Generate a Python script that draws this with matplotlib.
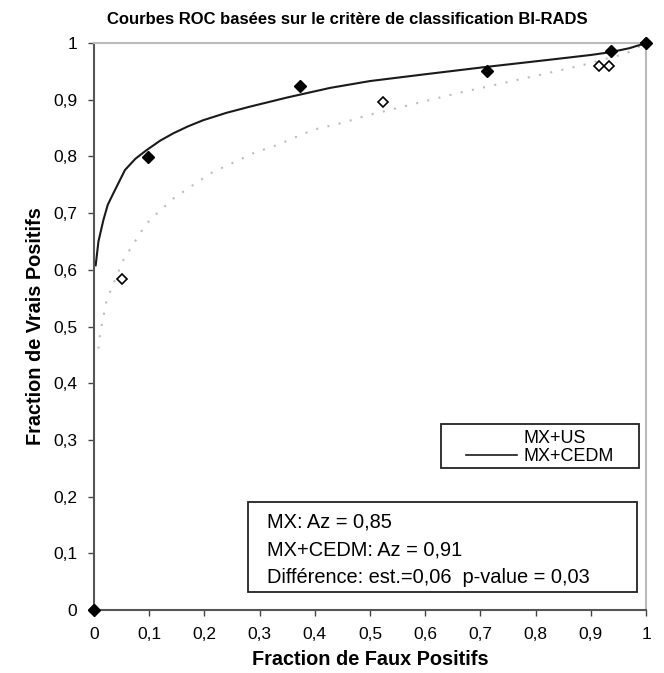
import matplotlib
matplotlib.use("Agg")
import matplotlib.pyplot as plt
from matplotlib.lines import Line2D
from matplotlib.patches import Rectangle

plt.rcParams['font.family'] = ['Liberation Sans', 'DejaVu Sans']

# observed operating points
cedm_fpf = [0.0, 0.098, 0.373, 0.712, 0.936, 1.0]
cedm_tpf = [0.0, 0.799, 0.924, 0.950, 0.986, 1.0]
us_fpf = [0.0, 0.051, 0.524, 0.915, 0.933, 1.0]
us_tpf = [0.0, 0.584, 0.896, 0.959, 0.959, 1.0]

# fitted curves
cedm_fit_x = [0.003, 0.008, 0.017, 0.025, 0.035, 0.056, 0.075, 0.095, 0.120, 0.144,
              0.170, 0.198, 0.240, 0.283, 0.350, 0.428, 0.500, 0.600, 0.711, 0.820,
              0.900, 0.936, 0.970, 1.0]
cedm_fit_y = [0.608, 0.650, 0.688, 0.715, 0.735, 0.776, 0.796, 0.811, 0.828, 0.841,
              0.853, 0.864, 0.877, 0.888, 0.904, 0.921, 0.933, 0.945, 0.958, 0.970,
              0.979, 0.984, 0.991, 1.0]
us_fit_x = [0.008, 0.011, 0.023, 0.053, 0.089, 0.101, 0.144, 0.186, 0.216, 0.250,
            0.289, 0.331, 0.397, 0.449, 0.497, 0.548, 0.610, 0.669, 0.730, 0.790,
            0.840, 0.893, 0.965, 1.0]
us_fit_y = [0.461, 0.488, 0.547, 0.617, 0.673, 0.688, 0.726, 0.754, 0.773, 0.788,
            0.806, 0.820, 0.847, 0.859, 0.873, 0.885, 0.900, 0.914, 0.927, 0.940,
            0.951, 0.963, 0.982, 1.0]

ticks = [0, 0.1, 0.2, 0.3, 0.4, 0.5, 0.6, 0.7, 0.8, 0.9, 1]
tick_labels = ['0', '0,1', '0,2', '0,3', '0,4', '0,5', '0,6', '0,7', '0,8', '0,9', '1']

stats_lines = ['MX: Az = 0,85', 'MX+CEDM: Az = 0,91',
               'Différence: est.=0,06  p-value = 0,03']

fig = plt.figure(figsize=(6.64, 6.73), dpi=100)
ax = fig.add_axes([0.1416, 0.0936, 0.8313, 0.8424])

ax.plot(us_fit_x, us_fit_y, color='#bdbdbd', lw=1.5, linestyle=(0, (1, 4.5)))
ax.plot(cedm_fit_x, cedm_fit_y, color='#1a1a1a', lw=1.5)
ax.plot(us_fpf, us_tpf, linestyle='none', marker='D', ms=5.5, mfc='white',
        mec='black', mew=1.2, clip_on=False, zorder=3)
ax.plot(cedm_fpf, cedm_tpf, linestyle='none', marker='D', ms=6, mfc='black',
        mec='black', clip_on=False, zorder=4)

ax.set_xlim(0, 1)
ax.set_ylim(0, 1)
ax.set_xticks(ticks)
ax.set_xticklabels(tick_labels)
ax.set_yticks(ticks)
ax.set_yticklabels(tick_labels)
ax.tick_params(labelsize=12.5, length=4, width=1, color='#444444', pad=8)

for side in ['left', 'bottom']:
    ax.spines[side].set_color('#555555')
    ax.spines[side].set_linewidth(1.5)
for side in ['top', 'right']:
    ax.spines[side].set_color('#bbbbbb')
    ax.spines[side].set_linewidth(1.5)

ax.set_title('Courbes ROC basées sur le critère de classification BI-RADS',
             fontsize=12, fontweight='bold', pad=14, x=0.458)
ax.set_xlabel('Fraction de Faux Positifs', fontsize=14.3, fontweight='bold', labelpad=6)
ax.set_ylabel('Fraction de Vrais Positifs', fontsize=14.3, fontweight='bold', labelpad=6)

# legend
handles = [Line2D([], [], color='white', lw=1.5),
           Line2D([], [], color='#1a1a1a', lw=1.2)]
leg = ax.legend(handles, ['MX+US', 'MX+CEDM'], loc='upper left',
                bbox_to_anchor=(0.674, 0.317), frameon=False, fontsize=13,
                handlelength=2.8, handletextpad=0.4, labelspacing=0.05,
                borderpad=0, borderaxespad=0)
ax.add_patch(Rectangle((0.629, 0.250), 0.358, 0.078, transform=ax.transAxes,
                       fill=False, ec='#222222', lw=1.3, zorder=5))

# statistics box
ax.add_patch(Rectangle((0.279, 0.032), 0.705, 0.158, transform=ax.transAxes,
                       fill=False, ec='#222222', lw=1.3, zorder=5))
for i, line in enumerate(stats_lines):
    ax.text(0.313, 0.155 - i * 0.0485, line, transform=ax.transAxes,
            fontsize=14.4, va='center', ha='left')

fig.savefig('out.png', dpi=100)
